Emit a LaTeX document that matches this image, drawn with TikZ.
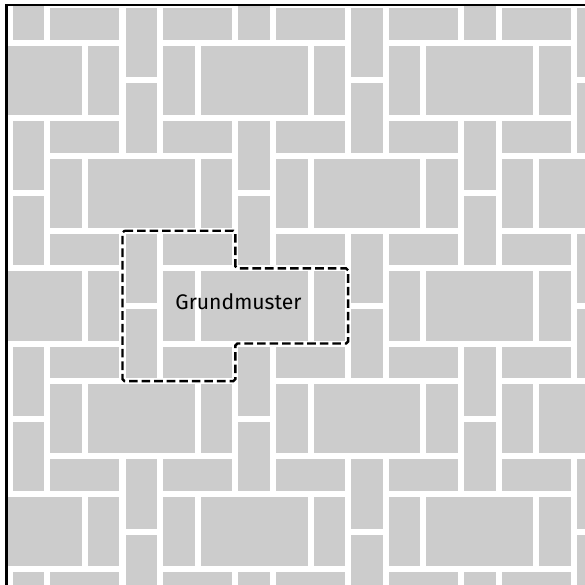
\documentclass[tikz,border=0pt]{standalone}
\usepackage{fontspec}
\setmainfont{Fira Sans}

% one paving slab, inset by half a joint: x0 y0 x1 y1
\def\fuge{0.08}
\newcommand{\platte}[4]{%
  \fill[tile] ({#1+\fuge},{#2-\fuge}) rectangle ({#3-\fuge},{#4+\fuge});}

\begin{document}
\begin{tikzpicture}[
  x=1cm,
  y=1cm,
  tile/.style={fill=gray!40},
  frame/.style={draw=black,line width=2pt},
  outline/.style={draw=black,line width=1.8pt,dash pattern=on 6.5pt off 3pt,
    rounded corners=1.5pt},
  caption/.style={font=\fontsize{16}{19}\selectfont,inner sep=0pt}
]
\useasboundingbox (-3.258,-9.396) rectangle (12.300,6.136);
\fill[white] (-3.258,-9.396) rectangle (12.300,6.136);

% pattern repeated along (6,0) and (-3,-3)
\begin{scope}
  \clip (-3.09,6) rectangle (13,-10);
  \foreach \a in {-3,...,3}{
    \foreach \b in {-3,...,4}{
      \begin{scope}[shift={({6*\a-3*\b},{-3*\b})}]
        \platte{0}{0}{1}{-2}
        \platte{0}{-2}{1}{-4}
        \platte{1}{0}{3}{-1}
        \platte{1}{-1}{2}{-3}
        \platte{2}{-1}{5}{-3}
        \platte{5}{-1}{6}{-3}
        \platte{1}{-3}{3}{-4}
      \end{scope}
    }
  }
\end{scope}

\draw[frame] (-3.09,-10) -- (-3.09,6) -- (13,6);

% basic pattern
\draw[outline] (0,0) -- (3,0) -- (3,-1) -- (6,-1) -- (6,-3) -- (3,-3)
  -- (3,-4) -- (0,-4) -- cycle;
\node[caption] (grundmuster) at (3.085,-1.88) {Grundmuster};

\end{tikzpicture}
\end{document}
